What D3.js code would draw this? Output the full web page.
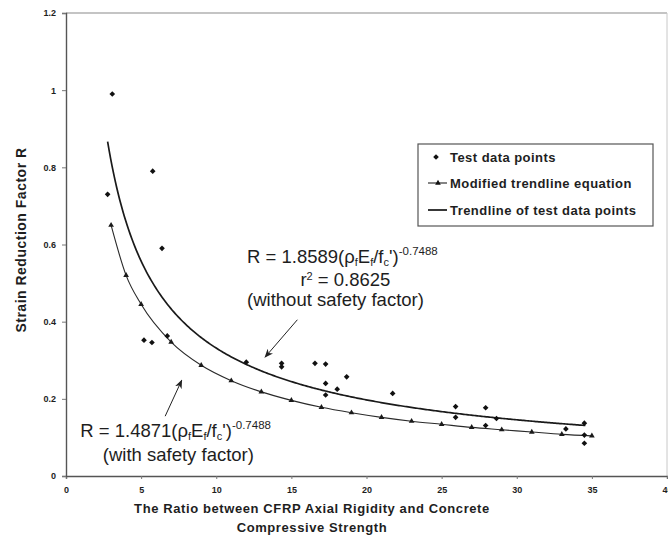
<!DOCTYPE html>
<html>
<head>
<meta charset="utf-8">
<script src="https://cdn.jsdelivr.net/npm/d3@7"></script>
<style>
  html, body { margin: 0; padding: 0; background: #fff; }
  svg { display: block; }
  text { font-family: "Liberation Sans", Arial, sans-serif; fill: #1e1e1e; }
</style>
</head>
<body>
<svg id="chart" width="668" height="540"></svg>
<script>
// Test results: strain reduction factor R against the CFRP rigidity ratio
const testX = [2.77, 3.08, 5.77, 6.39, 5.19, 5.72, 6.74, 12.0, 14.35, 14.35, 16.57, 17.28, 17.28, 17.28,
               18.05, 18.68, 21.74, 25.93, 25.93, 27.93, 27.93, 28.65, 33.27, 34.5, 34.5, 34.5];
const testR = [0.73, 0.99, 0.79, 0.59, 0.352, 0.346, 0.363, 0.295, 0.292, 0.283, 0.292, 0.29, 0.24, 0.21,
               0.225, 0.257, 0.214, 0.18, 0.152, 0.177, 0.131, 0.149, 0.122, 0.137, 0.106, 0.085];

// Modified (design) trendline, plotted as a marked series
const modX = [3, 4, 5, 7, 9, 11, 13, 15, 17, 19, 21, 23, 25, 27, 29, 31, 33, 35];
const modR = [0.65, 0.52, 0.445, 0.347, 0.287, 0.247, 0.218, 0.196, 0.178, 0.164, 0.152, 0.142,
              0.134, 0.126, 0.12, 0.114, 0.108, 0.104];

// Power-law fit of the test data: R = a * x^b
const fitCoef = 1.8589;
const fitExp = -0.7488;
const fitRange = [2.77, 34.6];

const xTicks = [0, 5, 10, 15, 20, 25, 30, 35, 40];
const yTicks = [0, 0.2, 0.4, 0.6, 0.8, 1, 1.2];
const legendLabels = ["Test data points", "Modified trendline equation", "Trendline of test data points"];

const svg = d3.select("#chart");
const x = d3.scaleLinear().domain([0, 40]).range([66, 667]);
const y = d3.scaleLinear().domain([0, 1.2]).range([476, 13]);

// plot frame
svg.append("line").attr("x1", x(0)).attr("x2", x(40)).attr("y1", y(1.2)).attr("y2", y(1.2))
  .attr("stroke", "#8a8a8a").attr("stroke-width", 1.2);
svg.append("line").attr("x1", x(40)).attr("x2", x(40)).attr("y1", y(1.2)).attr("y2", y(0))
  .attr("stroke", "#c8c8c8").attr("stroke-width", 1);

// axes
const xAxis = d3.axisBottom(x).tickValues(xTicks).tickSize(3).tickPadding(8)
  .tickFormat(d3.format("d"));
const gx = svg.append("g").attr("transform", `translate(0,${y(0)})`).call(xAxis);
gx.select(".domain").attr("stroke", "#555").attr("stroke-width", 1.4);
gx.selectAll(".tick line").attr("stroke", "#777");
gx.selectAll(".tick text").style("font-size", "9px").style("font-weight", "bold").attr("fill", "#2a2a2a");

const yAxis = d3.axisLeft(y).tickValues(yTicks).tickSize(4).tickPadding(6)
  .tickFormat(d => d3.format("~g")(d));
const gy = svg.append("g").attr("transform", `translate(${x(0)},0)`).call(yAxis);
gy.select(".domain").attr("stroke", "#555").attr("stroke-width", 1.4);
gy.selectAll(".tick line").attr("stroke", "#777");
gy.selectAll(".tick text").style("font-size", "9px").style("font-weight", "bold").attr("fill", "#2a2a2a");

// axis titles
svg.append("text").attr("transform", "translate(21,240) rotate(-90)")
  .attr("text-anchor", "middle").attr("dominant-baseline", "central")
  .style("font-size", "14px").style("font-weight", "bold").style("letter-spacing", "0.5px")
  .text("Strain Reduction Factor R");
svg.append("text").attr("x", 312).attr("y", 513).attr("text-anchor", "middle")
  .style("font-size", "13px").style("font-weight", "bold").style("letter-spacing", "0.6px")
  .text("The Ratio between CFRP Axial Rigidity and Concrete");
svg.append("text").attr("x", 312).attr("y", 532).attr("text-anchor", "middle")
  .style("font-size", "13px").style("font-weight", "bold").style("letter-spacing", "0.6px")
  .text("Compressive Strength");

// trendline of the test data
const fitPts = d3.range(fitRange[0], fitRange[1] + 0.001, 0.1).map(v => [v, fitCoef * Math.pow(v, fitExp)]);
const line = d3.line().x(d => x(d[0])).y(d => y(d[1]));
svg.append("path").attr("d", line(fitPts)).attr("fill", "none")
  .attr("stroke", "#1a1a1a").attr("stroke-width", 1.7);

// modified trendline series
const modPts = modX.map((v, i) => [v, modR[i]]);
svg.append("path").attr("d", d3.line().curve(d3.curveMonotoneX).x(d => x(d[0])).y(d => y(d[1]))(modPts))
  .attr("fill", "none").attr("stroke", "#2a2a2a").attr("stroke-width", 1.1);
const tri = d3.symbol().type(d3.symbolTriangle).size(14);
svg.append("g").selectAll("path").data(modPts).join("path")
  .attr("transform", d => `translate(${x(d[0])},${y(d[1])})`).attr("d", tri).attr("fill", "#1a1a1a");

// test data points
const sq = d3.symbol().type(d3.symbolSquare).size(16);
svg.append("g").selectAll("path").data(testX.map((v, i) => [v, testR[i]])).join("path")
  .attr("transform", d => `translate(${x(d[0])},${y(d[1])}) rotate(45)`).attr("d", sq).attr("fill", "#111");

// equation annotations
function equation(px, py, coef) {
  const t = svg.append("text").attr("x", px).attr("y", py).style("font-size", "18.5px");
  t.append("tspan").text(`R = ${coef}(ρ`);
  t.append("tspan").attr("dy", 3).style("font-size", "11px").text("f");
  t.append("tspan").attr("dy", -3).text("E");
  t.append("tspan").attr("dy", 3).style("font-size", "11px").text("f");
  t.append("tspan").attr("dy", -3).text("/f");
  t.append("tspan").attr("dy", 3).style("font-size", "11px").text("c");
  t.append("tspan").attr("dy", -3).text("')");
  t.append("tspan").attr("dy", -8).style("font-size", "11.5px").text("-0.7488");
}
equation(x(12.05), y(0.553), "1.8589");
svg.append("text").attr("x", x(15.6)).attr("y", y(0.492)).style("font-size", "18.5px")
  .call(t => {
    t.append("tspan").text("r");
    t.append("tspan").attr("dy", -6).style("font-size", "11px").text("2");
    t.append("tspan").attr("dy", 6).text(" = 0.8625");
  });
svg.append("text").attr("x", x(12.05)).attr("y", y(0.44)).style("font-size", "18.5px")
  .text("(without safety factor)");

equation(x(0.95), y(0.102), "1.4871");
svg.append("text").attr("x", x(2.45)).attr("y", y(0.04)).style("font-size", "18.5px")
  .text("(with safety factor)");

// arrows from the notes to their curves
const defs = svg.append("defs");
defs.append("marker").attr("id", "head").attr("viewBox", "0 0 10 10").attr("refX", 9).attr("refY", 5)
  .attr("markerWidth", 9).attr("markerHeight", 9).attr("orient", "auto")
  .append("path").attr("d", "M0,1 L10,5 L0,9 L3,5 Z").attr("fill", "#222");
const arrows = [[[15.4, 0.405], [13.25, 0.308]], [[6.6, 0.155], [7.7, 0.248]]];
svg.append("g").selectAll("line").data(arrows).join("line")
  .attr("x1", d => x(d[0][0])).attr("y1", d => y(d[0][1]))
  .attr("x2", d => x(d[1][0])).attr("y2", d => y(d[1][1]))
  .attr("stroke", "#222").attr("stroke-width", 1).attr("marker-end", "url(#head)");

// legend
const lg = svg.append("g");
lg.append("rect").attr("x", 418).attr("y", 144).attr("width", 235).attr("height", 82)
  .attr("fill", "#fff").attr("stroke", "#555").attr("stroke-width", 1.2);
const rowY = [157, 183, 210];
lg.selectAll("text").data(legendLabels).join("text")
  .attr("x", 450).attr("y", (d, i) => rowY[i]).attr("dominant-baseline", "central")
  .style("font-size", "13px").style("font-weight", "bold").style("letter-spacing", "0.45px").text(d => d);
lg.append("path").attr("transform", `translate(436,${rowY[0]}) rotate(45)`).attr("d", sq).attr("fill", "#111");
lg.append("line").attr("x1", 428).attr("x2", 447).attr("y1", rowY[1]).attr("y2", rowY[1])
  .attr("stroke", "#222").attr("stroke-width", 1.1);
lg.append("path").attr("transform", `translate(438,${rowY[1]})`).attr("d", tri).attr("fill", "#111");
lg.append("line").attr("x1", 428).attr("x2", 447).attr("y1", rowY[2]).attr("y2", rowY[2])
  .attr("stroke", "#222").attr("stroke-width", 1.8);
</script>
</body>
</html>
